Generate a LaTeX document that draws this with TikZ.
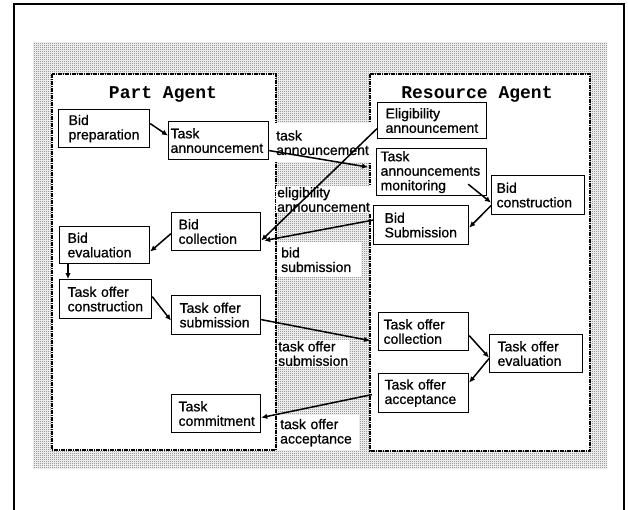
\documentclass[tikz,border=0pt]{standalone}
\usepackage{fontspec}
\setmainfont{Liberation Sans}[FakeBold=0.8]
\newfontfamily\titlefont{Liberation Mono}
\usetikzlibrary{arrows.meta,patterns}
\pgfdeclarepatternformonly{checkdots}{\pgfpointorigin}{\pgfqpoint{2pt}{2pt}}{\pgfqpoint{2pt}{2pt}}{%
  \pgfpathrectangle{\pgfpointorigin}{\pgfqpoint{1pt}{1pt}}%
  \pgfpathrectangle{\pgfqpoint{1pt}{1pt}}{\pgfqpoint{1pt}{1pt}}%
  \pgfusepath{fill}}
\begin{document}
\begin{tikzpicture}[x=1pt,y=-1pt,
  txt/.style={font=\fontsize{14}{14.5}\selectfont},
  box/.style={txt,draw=black,line width=1.2pt,fill=white,anchor=north west,align=left,inner ysep=1pt},
  lab/.style={txt,fill=white,anchor=north west,align=left,inner sep=1pt},
  agentborder/.style={draw=black,line width=1.4pt,dash pattern=on 4pt off 1pt on 1pt off 1pt,fill=white},
  title/.style={font=\titlefont\bfseries\fontsize{18}{18}\selectfont},
  conn/.style={line width=1.5pt,-{Latex[length=6pt,width=5.5pt]}}]
\useasboundingbox (0,0) rectangle (628,510);
% outer frame
\draw[line width=1.6pt] (14,510) -- (14,4) -- (624,4) -- (624,510);
% shaded region
\fill[pattern=checkdots,pattern color=black!60] (33,43) rectangle (607,468);
% agent areas
\path[agentborder] (52,74) rectangle (276,450);
\path[agentborder] (370,74) rectangle (590,451);
\node[title] (pa) at (163,94) {Part Agent};
\node[title] (ra) at (477,94) {Resource Agent};
% middle labels
\node[lab,minimum width=96pt,minimum height=39pt,text width=94pt] (lta) at (275,123) {task\\announcement};
\node[lab] (lel) at (276,186) {eligibility\\announcement};
\node[lab,minimum width=83pt,minimum height=35pt,text width=76pt,inner xsep=4pt] (lbs) at (277,242) {bid\\submission};
\node[lab] (lts) at (277,340) {task offer\\submission};
\node[lab,minimum width=81pt,minimum height=35pt,text width=76pt,inner xsep=3pt] (lac) at (277,415) {task offer\\acceptance};
% Part agent boxes
\node[box,minimum width=91pt,minimum height=38pt,text width=71pt,inner xsep=10pt] (prep) at (58,109) {Bid\\preparation};
\node[box,minimum width=100pt,minimum height=38pt,text width=96pt,inner xsep=2pt] (tann) at (168,121) {Task\\announcement};
\node[box,minimum width=89pt,minimum height=38pt,text width=75pt,inner xsep=7pt] (bcol) at (171,212) {Bid\\collection};
\node[box,minimum width=90pt,minimum height=37pt,text width=74pt,inner xsep=8pt] (beval) at (59,226) {Bid\\evaluation};
\node[box,minimum width=92pt,minimum height=39pt,text width=84pt,inner xsep=4pt] (tocon) at (59,279) {\hspace*{4pt}Task offer\\\hspace*{4pt}construction};
\node[box,minimum width=89pt,minimum height=39pt,text width=73pt,inner xsep=8pt] (tosub) at (171,295) {Task offer\\submission};
\node[box,minimum width=89pt,minimum height=38pt,text width=75pt,inner xsep=7pt] (tcom) at (171,394) {Task\\commitment};
% Resource agent boxes
\node[box,minimum width=109pt,minimum height=36pt,text width=93pt,inner xsep=8pt] (elig) at (377,102) {Eligibility\\announcement};
\node[box,minimum width=110pt,minimum height=47pt,text width=102pt,inner xsep=4pt] (tam) at (376,148) {Task\\announcements\\monitoring};
\node[box,minimum width=93pt,minimum height=39pt,text width=83pt,inner xsep=5pt] (bcon) at (491,175) {Bid\\construction};
\node[box,minimum width=95pt,minimum height=39pt,text width=73pt,inner xsep=11pt] (bsub) at (373,205) {Bid\\Submission};
\node[box,minimum width=90pt,minimum height=38pt,text width=80pt,inner xsep=5pt] (tocol) at (378,312) {Task offer\\collection};
\node[box,minimum width=93pt,minimum height=38pt,text width=77pt,inner xsep=8pt] (toeval) at (489,334) {Task offer\\evaluation};
\node[box,minimum width=90pt,minimum height=39pt,text width=78pt,inner xsep=6pt] (toacc) at (378,373) {Task offer\\acceptance};
% connectors
\draw[conn] ([yshift=5pt]prep.east) -- ([yshift=5pt]tann.west);
\draw[conn] ([yshift=-10pt]tann.east) -- ([xshift=-8pt,yshift=5pt]tam.west);
\draw[conn] ([yshift=-8pt]elig.west) -- ([yshift=-9pt]bcol.east);
\draw[conn] ([yshift=5pt]bsub.west) -- ([xshift=3pt,yshift=-9pt]bcol.east);
\draw[conn] ([yshift=-2pt]bcol.west) -- ([yshift=-6.5pt]beval.east);
\draw[conn] ([xshift=9pt]beval.south west) -- ([xshift=9pt]tocon.north west);
\draw[conn] ([yshift=2.5pt]tocon.east) -- ([yshift=-5.5pt]tosub.west);
\draw[conn] ([yshift=-4.5pt]tosub.east) -- ([xshift=-8pt,yshift=-9pt]tocol.west);
\draw[conn] ([xshift=-6pt,yshift=-1.5pt]toacc.west) -- ([yshift=-4pt]tcom.east);
\draw[conn] ([xshift=-19pt,yshift=12pt]tam.south east) -- ([yshift=-7.5pt]bcon.west);
\draw[conn] ([yshift=-10.5pt]bcon.west) -- ([yshift=-2.5pt]bsub.east);
\draw[conn] ([yshift=-4pt]tocol.east) -- ([yshift=-4pt]toeval.west);
\draw[conn] ([yshift=-5pt]toeval.west) -- ([yshift=10.5pt]toacc.east);
\end{tikzpicture}
\end{document}
